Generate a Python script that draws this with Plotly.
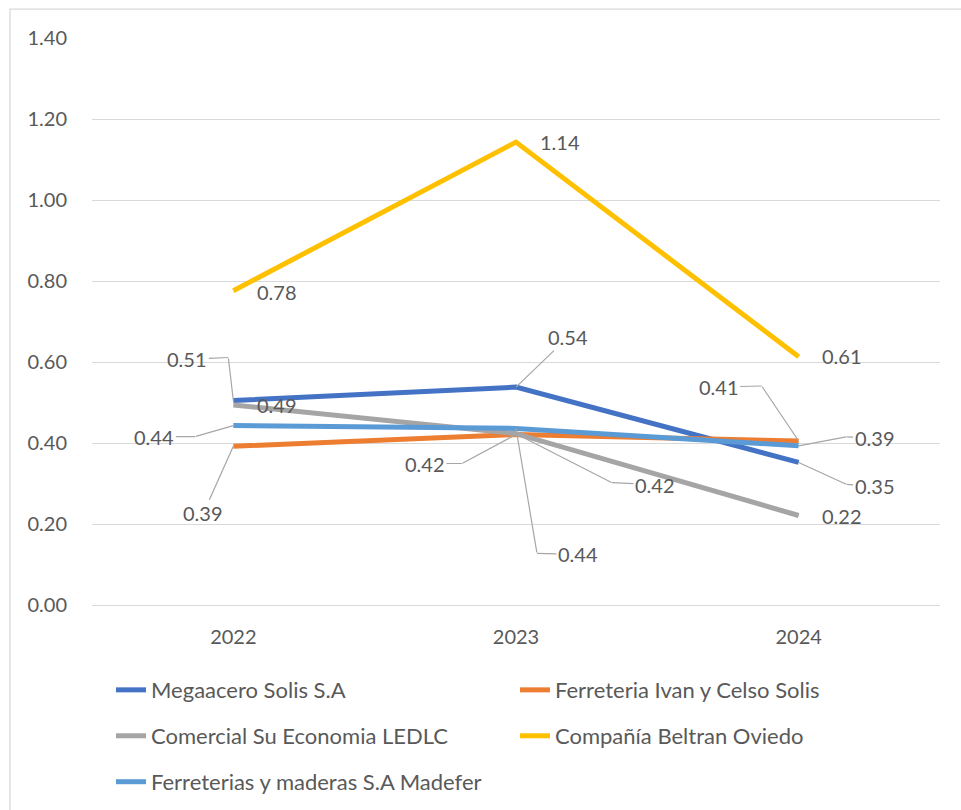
import plotly.graph_objects as go

years = ["2022", "2023", "2024"]
series_names = [
    "Megaacero Solis S.A",
    "Ferreteria Ivan y Celso Solis",
    "Comercial Su Economia LEDLC",
    "Compañía Beltran Oviedo",
    "Ferreterias y maderas S.A Madefer",
]
megaacero = [0.505, 0.538, 0.352]
ferreteria_ivan = [0.392, 0.421, 0.405]
comercial = [0.494, 0.423, 0.221]
beltran = [0.776, 1.143, 0.613]
madefer = [0.443, 0.436, 0.393]
series_values = [megaacero, ferreteria_ivan, comercial, beltran, madefer]
colors = ["#4472C4", "#ED7D31", "#A5A5A5", "#FFC000", "#5B9BD5"]
y_ticks = [0, 0.2, 0.4, 0.6, 0.8, 1.0, 1.2, 1.4]

# label pixel offsets (dx, dy) relative to the point, and leader style:
# None = no leader, "s" = straight leader, (bx, by) = elbow leader bend offset
label_offsets = [
    [(-46, -41, (-5, -43)), (52, -50, "s"), (76, 24, (48, 22))],
    [(-30, 67, "s"), (-91, 29, (-54, 29)), (-80, -54, (-37, -55))],
    [(44, 0, None), (139, 51, (96, 49)), (43, 0, None)],
    [(44, 1, None), (44, 0, None), (43, -1, None)],
    [(-79, 11, (-38, 11)), (62, 126, (21, 125)), (76, -8, (48, -9))],
]

FONT = "Lato, Carlito, Calibri, sans-serif"
TXT = "#595959"
LEAD = "#A6A6A6"

fig = go.Figure()
legends = ["legend", "legend", "legend2", "legend2", "legend3"]
for name, vals, col, lg in zip(series_names, series_values, colors, legends):
    fig.add_trace(go.Scatter(
        x=years, y=vals, mode="lines", name=name,
        line=dict(color=col, width=5), legend=lg,
    ))

lab_font = dict(family=FONT, size=20, color=TXT)
annotations = []
for vals, offs in zip(series_values, label_offsets):
    for i, (yv, (dx, dy, lead)) in enumerate(zip(vals, offs)):
        txt = f"{yv:.2f}"
        if lead is None:
            annotations.append(dict(
                x=i, y=yv, xshift=dx, yshift=-dy, text=txt, showarrow=False,
                font=lab_font))
        elif lead == "s":
            annotations.append(dict(
                x=i, y=yv, ax=dx, ay=dy, text=txt, showarrow=True,
                arrowhead=0, arrowwidth=1.2, arrowcolor=LEAD,
                standoff=0, font=lab_font))
        else:
            bx, by = lead
            # segment from bend to the data point
            annotations.append(dict(
                x=i, y=yv, ax=bx, ay=by, text=" ", showarrow=True,
                arrowhead=0, arrowwidth=1.2, arrowcolor=LEAD,
                standoff=0, borderpad=0,
                font=dict(family=FONT, size=1, color=TXT)))
            # label with short segment to the bend
            annotations.append(dict(
                x=i, y=yv, xshift=bx, yshift=-by, ax=dx - bx, ay=dy - by,
                text=txt, showarrow=True, arrowhead=0, arrowwidth=1.2,
                arrowcolor=LEAD, standoff=0, font=lab_font))

leg_common = dict(orientation="h", entrywidth=359, entrywidthmode="pixels",
                  font=dict(family=FONT, size=22, color=TXT),
                  bgcolor="rgba(0,0,0,0)", itemwidth=30,
                  xanchor="left", yanchor="middle", traceorder="normal")

fig.update_layout(
    width=961, height=810,
    margin=dict(l=92, r=21, t=38, b=205, autoexpand=False),
    paper_bgcolor="white", plot_bgcolor="white",
    font=dict(family=FONT, size=20, color=TXT),
    xaxis=dict(type="category", range=[-0.5, 2.5], showgrid=False,
               showline=False, zeroline=False, ticks="",
               ticklabelstandoff=18,
               tickfont=dict(family=FONT, size=20, color=TXT)),
    yaxis=dict(range=[0, 1.4], tickvals=y_ticks, tickformat=".2f",
               showgrid=True, gridcolor="#D9D9D9", gridwidth=1.3,
               zeroline=True, zerolinecolor="#D9D9D9", zerolinewidth=1.3,
               showline=False, ticks="", ticklabelstandoff=24,
               tickfont=dict(family=FONT, size=20, color=TXT)),
    legend=dict(x=0.0224, y=-0.150, **leg_common),
    legend2=dict(x=0.0224, y=-0.231, **leg_common),
    legend3=dict(x=0.0224, y=-0.312, **leg_common),
    annotations=annotations,
    shapes=[dict(type="rect", xref="paper", yref="paper",
                 x0=-0.0967, y0=-0.40, x1=1.05, y1=1.051,
                 line=dict(color="#D9D9D9", width=1.3),
                 fillcolor="rgba(0,0,0,0)", layer="below")],
    showlegend=True,
)

fig.write_html("out.html", config={"displayModeBar": False},
               post_script="document.body.style.margin='0';document.body.style.overflow='hidden';")
